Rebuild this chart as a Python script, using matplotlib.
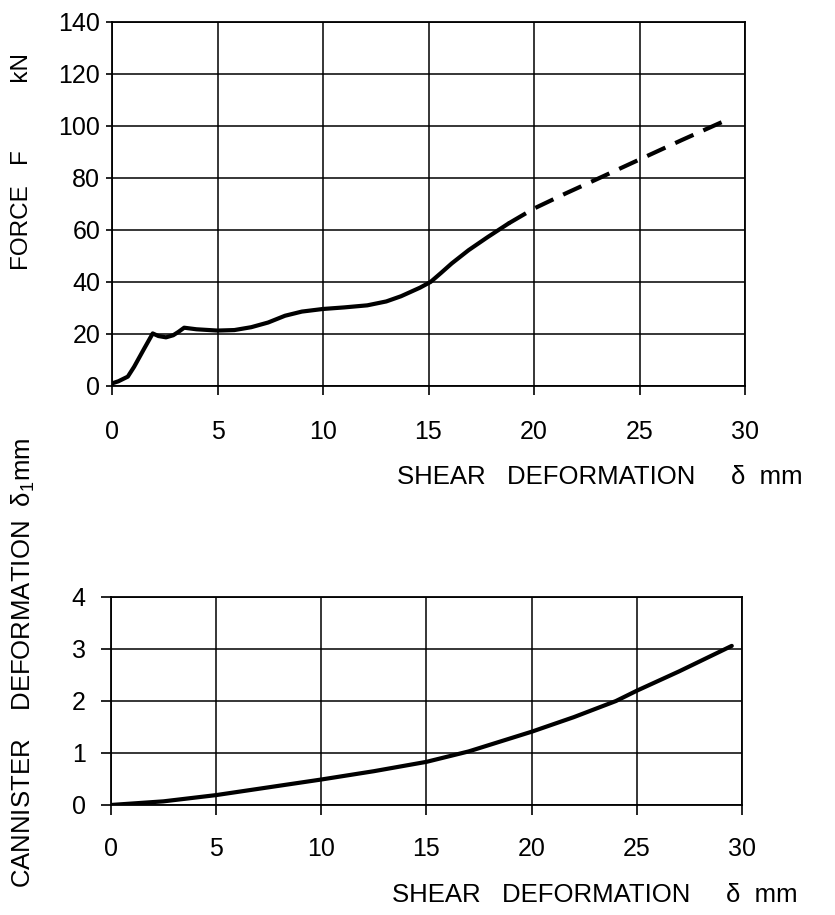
import matplotlib
matplotlib.use("Agg")
import matplotlib.pyplot as plt

plt.rcParams['font.family'] = ['Liberation Sans', 'DejaVu Sans']
plt.rcParams['mathtext.fontset'] = 'custom'
plt.rcParams['mathtext.rm'] = 'Liberation Sans'

# ---------------- data ----------------
# top panel: force vs shear deformation (solid = measured, dashed = extrapolated)
shear_solid = [0, 0.3, 0.75, 1.05, 1.5, 1.93, 2.2, 2.56, 2.9, 3.15, 3.42, 4.0, 5.0, 5.8,
               6.6, 7.4, 8.2, 9.0, 10.0, 11.0, 12.1, 13.0, 13.7, 14.6, 15.1, 15.6, 16.1,
               16.9, 17.8, 18.8]
force_solid = [1.0, 1.8, 3.6, 7.4, 14.0, 20.2, 19.2, 18.7, 19.5, 20.8, 22.4, 21.8, 21.3, 21.5,
               22.6, 24.4, 27.0, 28.6, 29.6, 30.2, 31.0, 32.5, 34.5, 37.8, 40.0, 43.5, 47.1,
               52.2, 57.2, 62.5]
shear_dashed = [18.8, 20.0, 21.5, 23.2, 25.07, 27.0, 29.26]
force_dashed = [62.5, 68.2, 74.0, 80.3, 87.3, 94.5, 102.7]

# bottom panel: canister deformation vs shear deformation
shear_b = [0, 2.5, 5, 7.5, 10, 12.5, 15, 17, 20, 22, 24, 25, 27, 29.5]
canister = [0, 0.07, 0.19, 0.34, 0.49, 0.65, 0.83, 1.03, 1.41, 1.69, 2.0, 2.2, 2.57, 3.06]

x_ticks = [0, 5, 10, 15, 20, 25, 30]
force_ticks = [0, 20, 40, 60, 80, 100, 120, 140]
can_ticks = [0, 1, 2, 3, 4]

# ---------------- figure ----------------
fig = plt.figure(figsize=(8.35, 9.15), dpi=100)
ax1 = fig.add_axes([112/835, 1-386/915, (745-112)/835, (386-21.7)/915])
ax2 = fig.add_axes([110.7/835, 1-805/915, (742.3-110.7)/835, (805-597)/915])

TICK_FS = 18
for ax in (ax1, ax2):
    ax.grid(True, color='black', linewidth=1.1)
    ax.set_axisbelow(True)
    for s in ax.spines.values():
        s.set_linewidth(1.3)
        s.set_color('black')
    ax.set_xlim(0, 30)
    ax.set_xticks(x_ticks)
    ax.set_xticklabels([str(v) for v in x_ticks])

ax1.plot(shear_solid, force_solid, color='black', lw=3.0, solid_capstyle='round',
         solid_joinstyle='round', zorder=3)
ax1.plot(shear_dashed, force_dashed, color='black', lw=3.0, dashes=(4.8, 2.6), zorder=3)
ax1.set_ylim(0, 140)
ax1.set_yticks(force_ticks)
ax1.set_yticklabels([str(v) for v in force_ticks])
ax1.tick_params(axis='x', direction='out', length=6.5, width=1.2, pad=18, labelsize=TICK_FS)
ax1.tick_params(axis='y', direction='out', length=4.5, width=1.2, pad=4, labelsize=TICK_FS)

ax2.plot(shear_b, canister, color='black', lw=3.0, solid_capstyle='round',
         solid_joinstyle='round', zorder=3)
ax2.set_ylim(0, 4)
ax2.set_yticks(can_ticks)
ax2.set_yticklabels([str(v) for v in can_ticks])
ax2.tick_params(axis='x', direction='out', length=7, width=1.2, pad=16, labelsize=TICK_FS)
ax2.tick_params(axis='y', direction='out', length=7, width=1.2, pad=11, labelsize=TICK_FS)

LAB_FS = 18.5
xlabel = "SHEAR   DEFORMATION     δ  mm"
fig.text(397/835, 1-477/915, xlabel, fontsize=LAB_FS, ha='left', va='center')
fig.text(392/835, 1-895/915, xlabel, fontsize=LAB_FS, ha='left', va='center')
fig.text(22/835, 1-161.5/915, "FORCE   F          kN", fontsize=17.5, rotation=90,
         ha='center', va='center')
fig.text(23/835, 1-663/915, r"CANNISTER    DEFORMATION  δ$_{1}$mm", fontsize=LAB_FS,
         rotation=90, ha='center', va='center')

fig.savefig("out.png", dpi=100)
